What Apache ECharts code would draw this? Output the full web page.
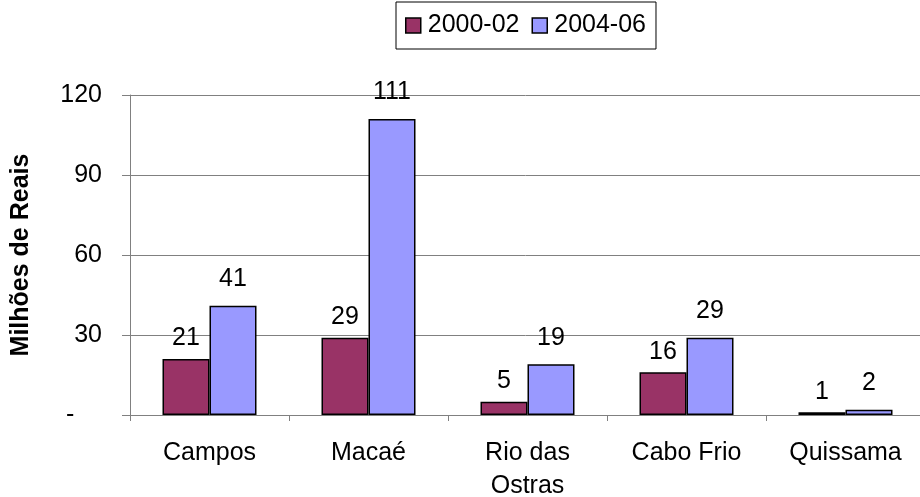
<!DOCTYPE html>
<html>
<head>
<meta charset="utf-8">
<script src="https://cdn.jsdelivr.net/npm/echarts@6/dist/echarts.min.js"></script>
<style>html,body{margin:0;padding:0;background:#fff}#c{width:920px;height:497px}</style>
</head>
<body>
<div id="c"></div>
<script>
const categories = ['Campos', 'Macaé', 'Rio das\nOstras', 'Cabo Frio', 'Quissama'];
const seriesNames = ['2000-02', '2004-06'];
const values2000 = [21, 29, 5, 16, 1];
const values2004 = [41, 111, 19, 29, 2];
const yTicks = [0, 30, 60, 90, 120];
const yAxisTitle = 'Milhões de Reais';

const FONT = 'Liberation Sans, Arial, sans-serif';
const FS = 25;
const chart = echarts.init(document.getElementById('c'), null, {renderer: 'canvas'});
const colors = ['#993366', '#9999FF'];
const labelDist = [8, 14];

chart.setOption({
  animation: false,
  textStyle: {fontFamily: FONT},
  legend: {
    data: seriesNames,
    top: 2,
    left: 396,
    itemWidth: 15,
    itemHeight: 15,
    itemGap: 12,
    icon: 'rect',
    borderColor: '#000',
    borderWidth: 1,
    padding: [11, 10, 11, 9],
    itemStyle: {borderColor: '#000', borderWidth: 1.5},
    textStyle: {fontSize: FS, color: '#000', fontFamily: FONT, padding: [0, 0, 0, 2]}
  },
  grid: {left: 130, width: 795, top: 95, bottom: 82, containLabel: false, outerBoundsMode: 'none'},
  xAxis: {
    type: 'category',
    data: categories,
    axisLine: {lineStyle: {color: '#808080', width: 1}},
    axisTick: {show: true, length: 6, lineStyle: {color: '#808080'}},
    axisLabel: {color: '#000', fontSize: FS, margin: 22, lineHeight: 33, fontFamily: FONT, interval: 0}
  },
  yAxis: {
    type: 'value',
    min: yTicks[0],
    max: yTicks[yTicks.length - 1],
    interval: yTicks[1] - yTicks[0],
    name: yAxisTitle,
    nameLocation: 'middle',
    nameGap: 96,
    nameTextStyle: {fontSize: FS, fontWeight: 'bold', color: '#000', fontFamily: FONT},
    axisLine: {show: true, lineStyle: {color: '#808080', width: 1}},
    axisTick: {show: true, length: 8, lineStyle: {color: '#808080'}},
    splitLine: {lineStyle: {color: '#808080', width: 1}},
    axisLabel: {
      color: '#000', fontSize: FS, margin: 28, fontFamily: FONT,
      formatter: v => v === 0 ? '-    ' : String(v)
    }
  },
  series: [values2000, values2004].map((vals, i) => ({
    name: seriesNames[i],
    type: 'bar',
    data: vals,
    barWidth: 47,
    barGap: '0%',
    itemStyle: {color: colors[i], borderColor: '#000', borderWidth: 1.5},
    label: {show: true, position: 'top', distance: labelDist[i], fontSize: FS, color: '#000', fontFamily: FONT}
  }))
});
</script>
</body>
</html>
